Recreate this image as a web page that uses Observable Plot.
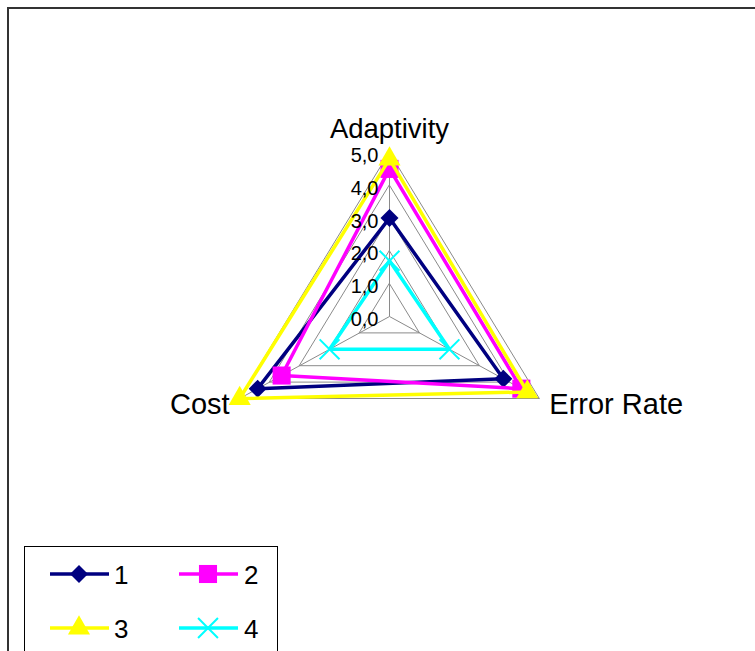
<!DOCTYPE html>
<html>
<head>
<meta charset="utf-8">
<script src="https://cdn.jsdelivr.net/npm/d3@7"></script>
<script src="https://cdn.jsdelivr.net/npm/@observablehq/plot@0.6"></script>
<style>
  body { margin: 0; background: #fff; font-family: "Liberation Sans", Arial, sans-serif; }
  #wrap { position: relative; width: 755px; height: 651px; overflow: hidden; background: #fff; }
  #frame { position: absolute; left: 7px; top: 7px; width: 820px; height: 720px;
           border-left: 2px solid #333; border-top: 2px solid #333; }
  #chart { position: absolute; left: 0; top: 0; }
  #legend { position: absolute; left: 24px; top: 546px; }
</style>
</head>
<body>
<div id="wrap">
  <div id="frame"></div>
  <div id="chart"></div>
  <div id="legend"></div>
</div>
<script>
// Radar axes, clockwise from the top
const axes = ["Adaptivity", "Error Rate", "Cost"];

// Series values, one per axis
const seriesNames = ["1", "2", "3", "4"];
const series1 = [3.0, 3.8, 4.4];
const series2 = [4.5, 4.4, 3.6];
const series3 = [4.8, 4.6, 5.0];
const series4 = [1.7, 2.0, 2.0];

// Value axis ticks
const tickValues = [0, 1, 2, 3, 4, 5];
const tickLabels = ["0,0", "1,0", "2,0", "3,0", "4,0", "5,0"];

// Styling
const colors = ["#000080", "#FF00FF", "#FFFF00", "#00FFFF"];
const symbols = ["diamond2", "square", "triangle", "times"];
const d3Symbols = [d3.symbolDiamond2, d3.symbolSquare, d3.symbolTriangle, d3.symbolTimes];
const dotR = [8.1, 10.2, 8.2, 9.1];

const W = 755, H = 651;
const cx = 389, cy = 316;      // pixel position of the radar centre
const ux = 34.6, uy = 32.8;    // pixels per value unit (x, y)
const maxV = 5;

const angle = i => Math.PI / 2 - i * 2 * Math.PI / axes.length;
const px = (v, i) => v * Math.cos(angle(i));
const py = (v, i) => v * Math.sin(angle(i));

const allSeries = [series1, series2, series3, series4];

// Grid rings (triangles) for each tick value
const ringPts = [];
for (const k of tickValues.slice(1)) {
  axes.forEach((a, i) => ringPts.push({k, x: px(k, i), y: py(k, i)}));
}

// Series points
const seriesPts = allSeries.map((vals, s) =>
  vals.map((v, i) => ({series: seriesNames[s], axis: axes[i], v, x: px(v, i), y: py(v, i)}))
);

const marks = [
  Plot.line(ringPts, {x: "x", y: "y", z: "k", curve: "linear-closed", stroke: "#8a8a8a", strokeWidth: 1}),
  Plot.link(axes, {x1: 0, y1: 0, x2: (d, i) => px(maxV, i), y2: (d, i) => py(maxV, i), stroke: "#8a8a8a", strokeWidth: 1})
];

seriesPts.forEach((pts, s) => {
  marks.push(Plot.line(pts, {x: "x", y: "y", curve: "linear-closed", stroke: colors[s], strokeWidth: 3.5}));
  if (symbols[s] === "times") {
    marks.push(Plot.dot(pts, {x: "x", y: "y", symbol: symbols[s], r: dotR[s], stroke: colors[s], strokeWidth: 2}));
  } else {
    marks.push(Plot.dot(pts, {x: "x", y: "y", symbol: symbols[s], r: dotR[s], fill: colors[s], stroke: "none"}));
  }
});

// Value axis tick labels along the top spoke
marks.push(Plot.text(tickValues, {
  x: 0, y: d => d, text: (d, i) => tickLabels[i],
  textAnchor: "end", lineAnchor: "middle", dx: -11, dy: 3,
  fontSize: 20, fill: "#000"
}));

// Axis category labels
marks.push(Plot.text([axes[0]], {x: px(maxV, 0), y: py(maxV, 0), text: d => d,
  textAnchor: "middle", lineAnchor: "bottom", dy: -15, fontSize: 27.5, fill: "#000"}));
marks.push(Plot.text([axes[1]], {x: px(maxV, 1), y: py(maxV, 1), text: d => d,
  textAnchor: "start", lineAnchor: "bottom", dx: 10, dy: 15, fontSize: 29, fill: "#000"}));
marks.push(Plot.text([axes[2]], {x: px(maxV, 2), y: py(maxV, 2), text: d => d,
  textAnchor: "end", lineAnchor: "bottom", dx: -10, dy: 15, fontSize: 29, fill: "#000"}));

const chart = Plot.plot({
  width: W, height: H,
  margin: 0,
  style: {background: "transparent", fontFamily: "'Liberation Sans', Arial, sans-serif"},
  x: {domain: [-cx / ux, (W - cx) / ux], axis: null},
  y: {domain: [-(H - cy) / uy, cy / uy], axis: null},
  marks
});
document.getElementById("chart").appendChild(chart);

// Legend box with line + marker swatches
const lg = d3.select("#legend").append("svg").attr("width", 254).attr("height", 105)
  .style("display", "block");
lg.append("rect").attr("x", 0.5).attr("y", 0.5).attr("width", 253).attr("height", 200)
  .attr("fill", "#fff").attr("stroke", "#000").attr("stroke-width", 1);
const cols = [0, 129], rows = [28, 82];
seriesNames.forEach((name, s) => {
  const ox = cols[s % 2], oy = rows[Math.floor(s / 2)];
  const g = lg.append("g").attr("transform", `translate(${ox},${oy})`);
  g.append("line").attr("x1", 26).attr("x2", 85).attr("y1", 0).attr("y2", 0)
    .attr("stroke", colors[s]).attr("stroke-width", 3.5);
  const path = d3.symbol(d3Symbols[s], Math.PI * dotR[s] * dotR[s])();
  const m = g.append("path").attr("d", path).attr("transform", "translate(55,0)");
  if (symbols[s] === "times") m.attr("fill", "none").attr("stroke", colors[s]).attr("stroke-width", 2);
  else m.attr("fill", colors[s]);
  g.append("text").attr("x", s % 2 ? 91 : 90).attr("y", 9.5).text(name)
    .attr("font-size", 26).attr("fill", "#000")
    .attr("font-family", "'Liberation Sans', Arial, sans-serif");
});
</script>
</body>
</html>
